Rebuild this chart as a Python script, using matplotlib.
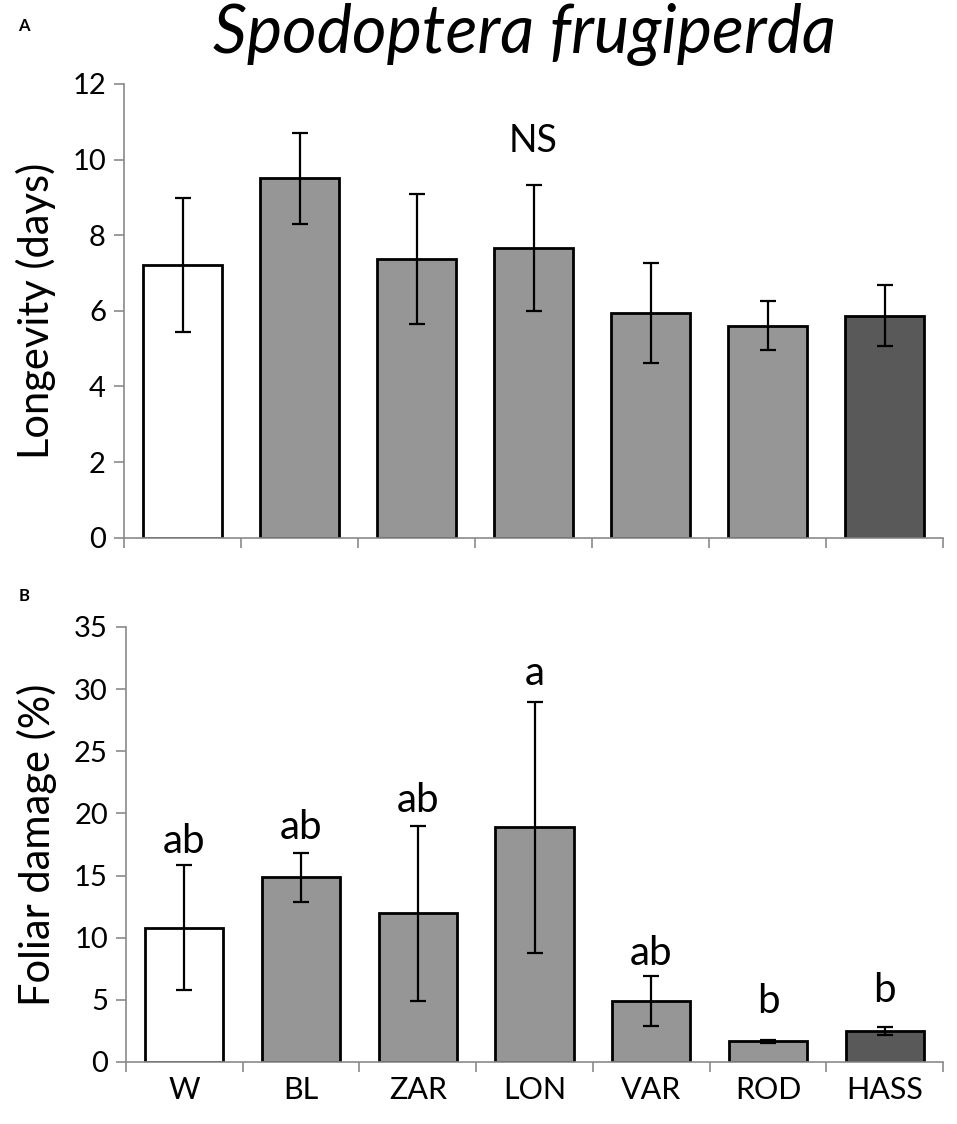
import numpy as np
import matplotlib
matplotlib.use("Agg")
import matplotlib.pyplot as plt

# Values
cultivars = ["W", "BL", "ZAR", "LON", "VAR", "ROD", "HASS"]
bar_colors = ["#ffffff", "#969696", "#969696", "#969696", "#969696", "#969696", "#595959"]

longevity = [7.21, 9.50, 7.37, 7.66, 5.94, 5.61, 5.87]
longevity_se = [1.78, 1.21, 1.73, 1.67, 1.32, 0.65, 0.81]

damage = [10.8, 14.86, 11.96, 18.88, 4.90, 1.66, 2.49]
damage_se = [5.05, 1.95, 7.05, 10.1, 2.0, 0.1, 0.33]
damage_letters = ["ab", "ab", "ab", "a", "ab", "b", "b"]
letter_y = [16.8, 17.9, 20.1, 30.3, 7.8, 3.9, 4.85]

plt.rcParams["font.family"] = ["Lato", "DejaVu Sans"]

fig = plt.figure(figsize=(9.57, 11.24), dpi=100)
axA = fig.add_axes([0.1296, 0.5216, 0.8558, 0.4037])
axB = fig.add_axes([0.1317, 0.0552, 0.8537, 0.3870])

x = np.arange(len(cultivars))
spine_col = "#8a8a8a"


def style_axis(ax, ymax, ystep):
    ax.set_xlim(-0.5, len(cultivars) - 0.5)
    ax.set_ylim(0, ymax)
    ax.set_yticks(np.arange(0, ymax + 0.1, ystep))
    for s in ["top", "right"]:
        ax.spines[s].set_visible(False)
    for s in ["left", "bottom"]:
        ax.spines[s].set_color(spine_col)
        ax.spines[s].set_linewidth(1.2)
    ax.tick_params(axis="y", direction="out", length=7, width=1.2, color=spine_col,
                   labelsize=21, pad=6)
    # category boundary ticks
    ax.set_xticks(np.arange(-0.5, len(cultivars)), minor=True)
    ax.tick_params(axis="x", which="minor", direction="out", length=7, width=1.2,
                   color=spine_col)
    ax.set_xticks(x)
    ax.tick_params(axis="x", which="major", length=0, labelsize=22, pad=10)


# Panel A: longevity
axA.bar(x, longevity, width=0.67, color=bar_colors, edgecolor="black", linewidth=2, zorder=2)
axA.errorbar(x, longevity, yerr=longevity_se, fmt="none", ecolor="black", elinewidth=1.6,
             capsize=5.5, capthick=1.6, zorder=3)
style_axis(axA, 12, 2)
axA.set_xticklabels([])
axA.set_ylabel("Longevity (days)", fontsize=30, labelpad=12)
axA.text(3, 10.2, "NS", ha="center", va="baseline", fontsize=27)

# Panel B: foliar damage
axB.bar(x, damage, width=0.67, color=bar_colors, edgecolor="black", linewidth=2, zorder=2)
axB.errorbar(x, damage, yerr=damage_se, fmt="none", ecolor="black", elinewidth=1.6,
             capsize=5.5, capthick=1.6, zorder=3)
style_axis(axB, 35, 5)
axB.set_xticklabels(cultivars)
axB.set_ylabel("Foliar damage (%)", fontsize=30, labelpad=12)
for xi, lab, ly in zip(x, damage_letters, letter_y):
    axB.text(xi, ly, lab, ha="center", va="baseline", fontsize=29)

fig.text(0.548, 0.953, "Spodoptera frugiperda", ha="center", va="baseline",
         fontsize=48, style="italic")
fig.text(0.019, 0.977, "A", fontsize=12, fontweight="bold", va="center")
fig.text(0.019, 0.470, "B", fontsize=12, fontweight="bold", va="center")

fig.savefig("out.png", dpi=100)
